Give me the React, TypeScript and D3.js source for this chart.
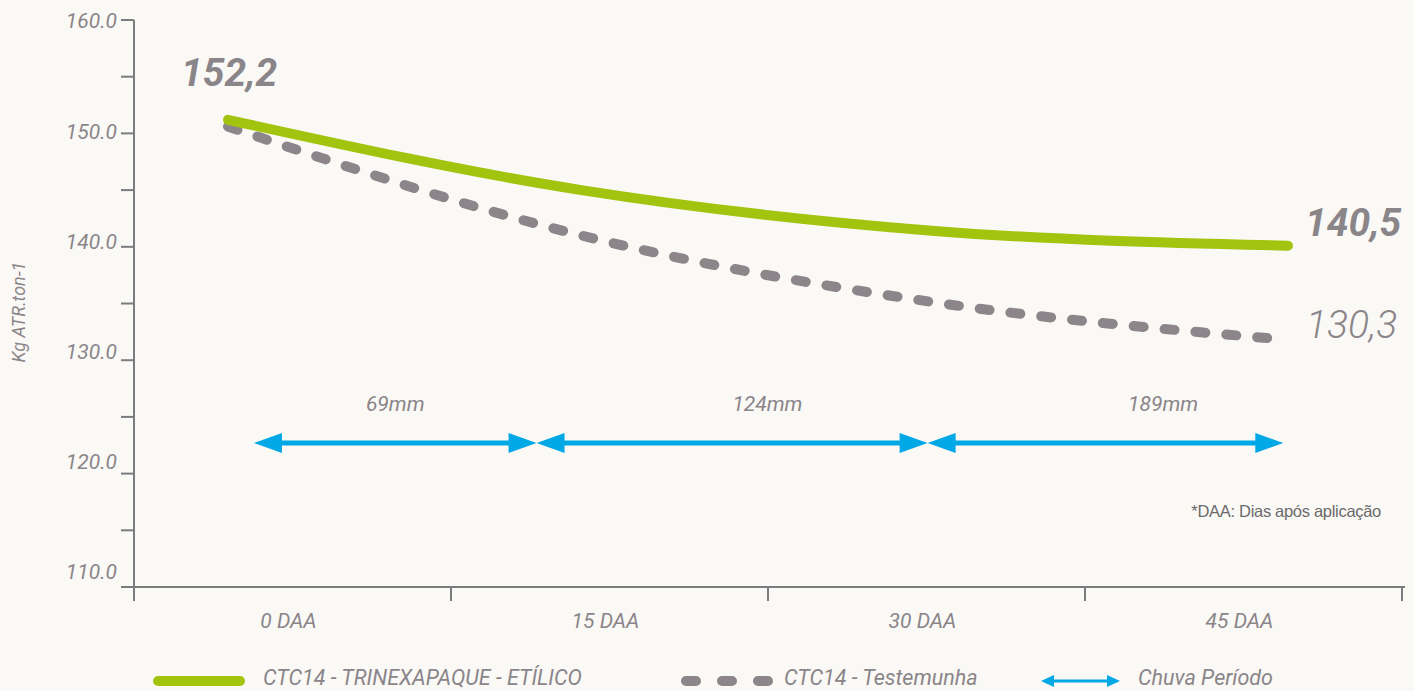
import React, { useRef, useEffect } from 'react';
import * as d3 from 'd3';

// DAA positions of the measured points
const days = [0, 15, 30, 45];
const trinexapaque = [151.2, 145.0, 141.4, 140.1];
const testemunha = [150.6, 141.0, 135.1, 131.8];

const xCategories = ['0 DAA', '15 DAA', '30 DAA', '45 DAA'];
const yTicks = [110, 120, 130, 140, 150, 160];
const yMinorTicks = [115, 125, 135, 145, 155];

// rain periods (start/end in DAA) and accumulated rain
const rainStart = [1.1, 13.1, 29.7];
const rainEnd = [13.1, 29.7, 44.8];
const rainLabel = ['69mm', '124mm', '189mm'];
const rainLabelAt = [7.1, 22.9, 39.7];

const startLabel = '152,2';
const endLabels = ['140,5', '130,3'];

const GREEN = '#a3c40f';
const GRAY = '#8c8589';
const BLUE = '#00a8e6';
const TEXT = '#8a8589';
const FONT = 'Roboto, "Liberation Sans", sans-serif';

export default function App() {
  const svgRef = useRef<SVGSVGElement | null>(null);

  useEffect(() => {
    if (!svgRef.current) return;
    const svg = d3.select(svgRef.current);
    svg.selectAll('*').remove();

    const width = 1414;
    const height = 691;

    svg.append('rect').attr('width', width).attr('height', height).attr('fill', '#fbf9f6');

    const y = d3.scaleLinear().domain([110, 160]).range([587, 20]);
    // tick labels are set slightly tighter than the ticks themselves
    const yLabel = d3.scaleLinear().domain([110, 160]).range([572, 21]);
    const x = d3.scaleLinear().domain([0, 45]).range([228, 1288]);
    const band = d3.scaleBand<string>().domain(xCategories).range([134, 1402]);

    const axisColor = '#7b7b80';

    // Y axis
    svg.append('line')
      .attr('x1', 134).attr('x2', 134).attr('y1', y(160)).attr('y2', 601)
      .attr('stroke', axisColor).attr('stroke-width', 2);
    svg.append('g').selectAll('line')
      .data([...yTicks, ...yMinorTicks])
      .join('line')
      .attr('x1', 121).attr('x2', 134)
      .attr('y1', d => y(d)).attr('y2', d => y(d))
      .attr('stroke', axisColor).attr('stroke-width', 2);
    svg.append('g').selectAll('text')
      .data(yTicks)
      .join('text')
      .attr('x', 117)
      .attr('y', d => yLabel(d))
      .attr('dy', '0.35em')
      .attr('text-anchor', 'end')
      .attr('font-family', FONT)
      .attr('font-style', 'italic')
      .attr('font-size', 21)
      .attr('fill', TEXT)
      .text(d => d.toFixed(1));

    svg.append('text')
      .attr('transform', 'translate(25,312) rotate(-90)')
      .attr('text-anchor', 'middle')
      .attr('font-family', FONT)
      .attr('font-style', 'italic')
      .attr('font-size', 18)
      .attr('fill', TEXT)
      .text('Kg ATR.ton-1');

    // X axis
    svg.append('line')
      .attr('x1', 121).attr('x2', 1405).attr('y1', y(110)).attr('y2', y(110))
      .attr('stroke', axisColor).attr('stroke-width', 2);
    const edges = [...xCategories.map(c => band(c)!), band.range()[1]];
    svg.append('g').selectAll('line')
      .data(edges.slice(1))
      .join('line')
      .attr('x1', d => d).attr('x2', d => d)
      .attr('y1', y(110)).attr('y2', 601)
      .attr('stroke', axisColor).attr('stroke-width', 2);
    svg.append('g').selectAll('text')
      .data(xCategories)
      .join('text')
      .attr('x', d => band(d)! + band.bandwidth() / 2 - 4)
      .attr('y', 628)
      .attr('text-anchor', 'middle')
      .attr('font-family', FONT)
      .attr('font-style', 'italic')
      .attr('font-size', 21)
      .attr('fill', TEXT)
      .text(d => d);

    // Rain arrows
    const arrow = (g: d3.Selection<SVGGElement, unknown, null, undefined>, x0: number, x1: number, yy: number, head: number, half: number, sw: number) => {
      g.append('line')
        .attr('x1', x0 + head - 2).attr('x2', x1 - head + 2).attr('y1', yy).attr('y2', yy)
        .attr('stroke', BLUE).attr('stroke-width', sw);
      g.append('path')
        .attr('d', `M${x0},${yy}L${x0 + head},${yy - half}L${x0 + head},${yy + half}Z`)
        .attr('fill', BLUE);
      g.append('path')
        .attr('d', `M${x1},${yy}L${x1 - head},${yy - half}L${x1 - head},${yy + half}Z`)
        .attr('fill', BLUE);
    };
    const rainG = svg.append('g');
    rainStart.forEach((s, i) => {
      arrow(rainG, x(s), x(rainEnd[i]), 443, 28, 10, 5);
    });
    svg.append('g').selectAll('text')
      .data(rainLabel)
      .join('text')
      .attr('x', (_, i) => x(rainLabelAt[i]))
      .attr('y', 411)
      .attr('text-anchor', 'middle')
      .attr('font-family', FONT)
      .attr('font-style', 'italic')
      .attr('font-size', 21)
      .attr('fill', TEXT)
      .text(d => d);

    // Lines
    const lineGen = d3.line<number>()
      .x((_, i) => x(days[i]))
      .y(d => y(d))
      .curve(d3.curveMonotoneX);

    svg.append('path')
      .attr('d', lineGen(testemunha))
      .attr('fill', 'none')
      .attr('stroke', GRAY)
      .attr('stroke-width', 10)
      .attr('stroke-linecap', 'round')
      .attr('stroke-dasharray', '10 21');

    svg.append('path')
      .attr('d', lineGen(trinexapaque))
      .attr('fill', 'none')
      .attr('stroke', GREEN)
      .attr('stroke-width', 10)
      .attr('stroke-linecap', 'round');

    // Value labels
    svg.append('text')
      .attr('x', 181).attr('y', 86)
      .attr('font-family', FONT).attr('font-style', 'italic').attr('font-weight', 700)
      .attr('font-size', 39).attr('fill', TEXT)
      .text(startLabel);
    svg.append('text')
      .attr('x', 1305).attr('y', 236)
      .attr('font-family', FONT).attr('font-style', 'italic').attr('font-weight', 700)
      .attr('font-size', 39).attr('fill', TEXT)
      .text(endLabels[0]);
    svg.append('text')
      .attr('x', 1306).attr('y', 338)
      .attr('font-family', FONT).attr('font-style', 'italic').attr('font-weight', 300)
      .attr('font-size', 39).attr('fill', TEXT)
      .text(endLabels[1]);

    // Footnote
    svg.append('text')
      .attr('x', 1381).attr('y', 517)
      .attr('text-anchor', 'end')
      .attr('font-family', '"Liberation Sans", Arial, sans-serif')
      .attr('font-size', 16.5)
      .attr('letter-spacing', -0.3)
      .attr('fill', '#6a6a6a')
      .text('*DAA: Dias após aplicação');

    // Legend
    const ly = 681;
    const leg = svg.append('g');
    leg.append('line')
      .attr('x1', 158).attr('x2', 240).attr('y1', ly).attr('y2', ly)
      .attr('stroke', GREEN).attr('stroke-width', 10).attr('stroke-linecap', 'round');
    leg.append('line')
      .attr('x1', 686).attr('x2', 768).attr('y1', ly).attr('y2', ly)
      .attr('stroke', GRAY).attr('stroke-width', 10).attr('stroke-linecap', 'round')
      .attr('stroke-dasharray', '10 26');
    const legArrow = leg.append('g');
    arrow(legArrow, 1041, 1120, ly, 13, 6, 3);

    const legendText = [
      { x: 263, t: 'CTC14 - TRINEXAPAQUE - ETÍLICO' },
      { x: 784, t: 'CTC14 - Testemunha' },
      { x: 1138, t: 'Chuva Período' },
    ];
    leg.selectAll('text')
      .data(legendText)
      .join('text')
      .attr('x', d => d.x)
      .attr('y', 685)
      .attr('font-family', FONT)
      .attr('font-style', 'italic')
      .attr('font-size', 21.5)
      .attr('fill', TEXT)
      .text(d => d.t);
  }, []);

  return (
    <div style={{ position: 'fixed', left: 0, top: 0, width: 1414, height: 691 }}>
      <svg ref={svgRef} width={1414} height={691} style={{ display: 'block' }} />
    </div>
  );
}
